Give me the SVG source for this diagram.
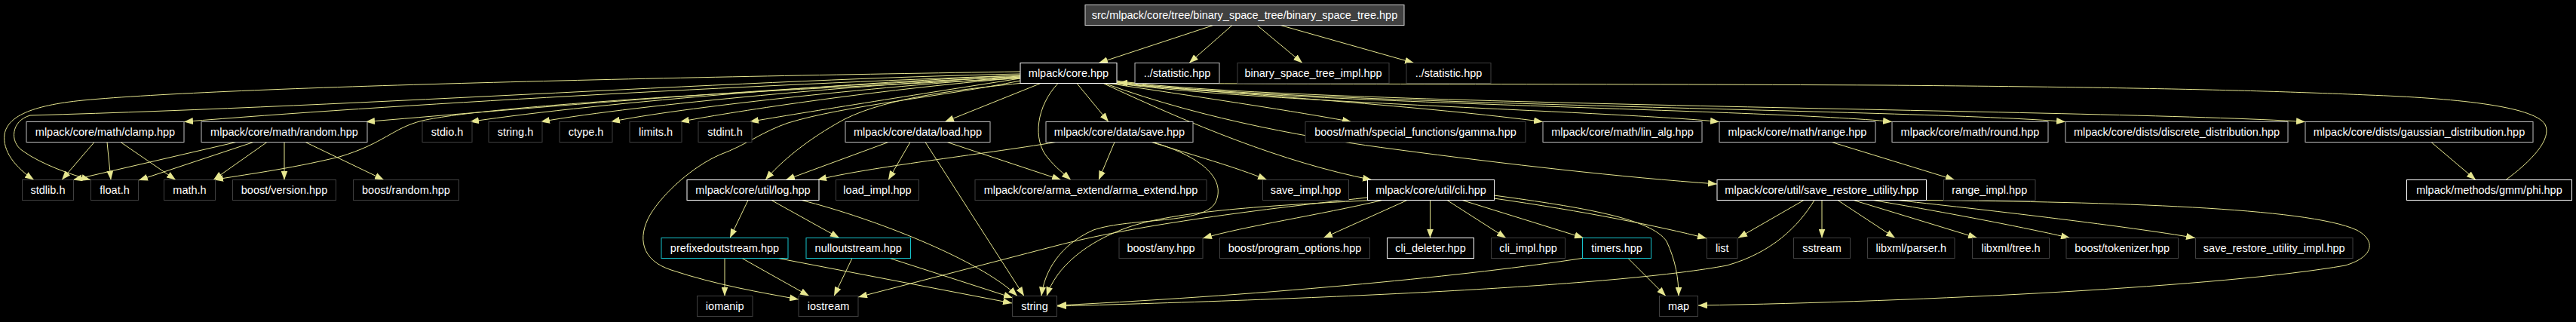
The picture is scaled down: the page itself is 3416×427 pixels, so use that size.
<svg xmlns="http://www.w3.org/2000/svg" width="3416" height="427" viewBox="0 0 3416 427">
<style>
.bg{fill:#000}
.e{fill:none;stroke:#e6e68f;stroke-width:1;marker-end:url(#ah)}
rect{fill:#000;stroke-width:1}
.w rect{stroke:#ffffff}
.g rect{stroke:#bfbfbf}
.d rect{stroke:#404040}
.c rect{stroke:#17c3cc}
.r rect{fill:#404040;stroke:#d0d0d0}
text{font-family:"Liberation Sans",Arial,sans-serif;font-size:14.5px;fill:#ffffff;text-anchor:middle}
</style>
<defs>
<marker id="ah" markerWidth="12" markerHeight="9" refX="12" refY="4.5" orient="auto" markerUnits="userSpaceOnUse">
<path d="M0,0 L12,4.5 L0,9 z" fill="#e6e68f"/>
</marker>
</defs>
<rect class="bg" x="0" y="0" width="3416" height="427"/>
<g id="edges">
<path class="e" d="M1609,33.5 L1457,83.5"/>
<path class="e" d="M1634,33.5 L1577,83.5"/>
<path class="e" d="M1667,33.5 L1727,83.5"/>
<path class="e" d="M1698,33.5 L1875,83.5"/>
<path class="e" d="M1353,95 C900,102 300,115 110,133 C40,140 10,155 6,178 C3,200 20,222 45,238.5"/>
<path class="e" d="M1353,98 C1000,105 500,140 40,153 C15,160 12,188 30,200 C55,218 95,232 120,238.5"/>
<path class="e" d="M1353,100 C1000,112 500,140 244,161.5"/>
<path class="e" d="M1353,102 C1000,116 650,148 485,161.5"/>
<path class="e" d="M1353,104 C1000,120 650,140 560,160 C520,170 510,190 450,208 C380,225 320,232 284,238.5"/>
<path class="e" d="M1353,100 C1150,108 800,135 623,161.5"/>
<path class="e" d="M1353,101 C1150,112 850,138 717,161.5"/>
<path class="e" d="M1353,102 C1150,116 900,143 810,161.5"/>
<path class="e" d="M1353,103 C1150,120 960,150 902,161.5"/>
<path class="e" d="M1353,104 C1250,120 1060,150 994,161.5"/>
<path class="e" d="M1380,110.5 L1253,161.5"/>
<path class="e" d="M1428,110.5 L1470,161.5"/>
<path class="e" d="M1403,110.5 C1375,140 1368,185 1390,210 C1400,222 1410,230 1420,238.5"/>
<path class="e" d="M1357,110 C1280,118 1180,128 1120,158 C1070,185 1035,215 1015,238.5"/>
<path class="e" d="M1353,107 C1250,128 1120,140 1045,163 C1010,175 990,192 955,205 C920,220 880,255 862,285 C845,315 850,345 890,358 C950,378 1010,388 1059,397"/>
<path class="e" d="M1470,110.5 C1600,130 1720,148 1792,161.5"/>
<path class="e" d="M1474,110.5 C1650,125 1900,142 2046,161.5"/>
<path class="e" d="M1477,110 C1650,135 2150,148 2280,161.5"/>
<path class="e" d="M1479,109 C1680,137 2350,145 2509,161.5"/>
<path class="e" d="M1480,108 C1690,139 2550,145 2739,161.5"/>
<path class="e" d="M1481,107 C1700,140 2800,145 3057,161.5"/>
<path class="e" d="M1465,110.5 C1600,160 1750,185 1850,198 C2000,218 2150,235 2277,244"/>
<path class="e" d="M1463,110.5 C1580,165 1700,215 1819,238.5"/>
<path class="e" d="M3323,238.5 C3355,215 3385,185 3375,165 C3360,140 3250,130 3140,126 C3000,120 2850,116 2500,113 C2100,111 1700,112 1483,110"/>
<path class="e" d="M1178,188.5 L1042,238.5"/>
<path class="e" d="M1207,188.5 L1178,238.5"/>
<path class="e" d="M1227,188.5 L1358,392.5"/>
<path class="e" d="M1256,188.5 L1407,238.5"/>
<path class="e" d="M1400,188.5 C1300,205 1150,222 1084,238.5"/>
<path class="e" d="M1478,188.5 L1457,238.5"/>
<path class="e" d="M1527,188.5 C1580,205 1640,222 1680,238.5"/>
<path class="e" d="M1529,188.5 C1600,210 1625,240 1612,268 C1598,298 1500,288 1450,305 C1405,325 1385,360 1381,392.5"/>
<path class="e" d="M992,265.5 L968,315.5"/>
<path class="e" d="M1023,265.5 L1113,315.5"/>
<path class="e" d="M1063,265.5 C1160,290 1300,345 1349,392.5"/>
<path class="e" d="M961,342.5 L961,392.5"/>
<path class="e" d="M984,342.5 L1073,392.5"/>
<path class="e" d="M1032,342.5 L1342,402"/>
<path class="e" d="M1130,342.5 L1106,392.5"/>
<path class="e" d="M1180,342.5 L1343,395"/>
<path class="e" d="M1813,262 C1650,280 1500,300 1400,326 C1300,352 1200,378 1138,394"/>
<path class="e" d="M1818,265.5 C1700,272 1570,278 1500,300 C1440,320 1400,355 1388,392.5"/>
<path class="e" d="M1833,265.5 C1750,285 1650,300 1595,316"/>
<path class="e" d="M1866,265.5 L1755,315.5"/>
<path class="e" d="M1896.5,265.5 L1896.5,315.5"/>
<path class="e" d="M1919,265.5 L1997,315.5"/>
<path class="e" d="M1939,265.5 L2100,315.5"/>
<path class="e" d="M1981,263 C2100,280 2200,300 2263,316"/>
<path class="e" d="M1981,259 C2100,275 2190,290 2210,320 C2222,345 2226,370 2226,392.5"/>
<path class="e" d="M2159,342.5 L2209,392.5"/>
<path class="e" d="M2098,342.5 C1950,365 1700,390 1402,405"/>
<path class="e" d="M2392,265.5 L2305,315.5"/>
<path class="e" d="M2406,265.5 C2385,300 2350,335 2290,352 C2150,378 1800,395 1402,406"/>
<path class="e" d="M2416,265.5 L2416,315.5"/>
<path class="e" d="M2437,265.5 L2513,315.5"/>
<path class="e" d="M2458,265.5 L2622,315.5"/>
<path class="e" d="M2484,265.5 C2600,285 2690,303 2745,315.5"/>
<path class="e" d="M2516,265.5 C2650,280 2820,300 2911,315.5"/>
<path class="e" d="M2554.5,265.5 C2800,268 3060,275 3125,305 C3150,318 3150,340 3110,352 C2950,380 2550,400 2252,405"/>
<path class="e" d="M2429,188.5 L2592,238.5"/>
<path class="e" d="M3224,188.5 L3283,238.5"/>
<path class="e" d="M125,188.5 L82,238.5"/>
<path class="e" d="M142,188.5 L147,238.5"/>
<path class="e" d="M160,188.5 L233,238.5"/>
<path class="e" d="M313,188.5 L97,238.5"/>
<path class="e" d="M336,188.5 L184,239"/>
<path class="e" d="M354,188.5 L283,238.5"/>
<path class="e" d="M377,188.5 L377,238.5"/>
<path class="e" d="M405,188.5 L509,238.5"/>
</g>
<g id="nodes">
<g id="n_root" class="r"><rect x="1439" y="6.5" width="423" height="27"/><text x="1650.5" y="25">src/mlpack/core/tree/binary_space_tree/binary_space_tree.hpp</text></g>
<g id="n_core" class="w"><rect x="1353" y="83.5" width="128" height="27"/><text x="1417" y="102">mlpack/core.hpp</text></g>
<g id="n_stat1" class="g"><rect x="1505" y="83.5" width="112" height="27"/><text x="1561" y="102">../statistic.hpp</text></g>
<g id="n_bstimpl" class="d"><rect x="1641" y="83.5" width="201" height="27"/><text x="1741.5" y="102">binary_space_tree_impl.hpp</text></g>
<g id="n_stat2" class="d"><rect x="1865" y="83.5" width="112" height="27"/><text x="1921" y="102">../statistic.hpp</text></g>
<g id="n_clamp" class="g"><rect x="35" y="161.5" width="209" height="27"/><text x="139.5" y="180">mlpack/core/math/clamp.hpp</text></g>
<g id="n_random" class="g"><rect x="267" y="161.5" width="220" height="27"/><text x="377" y="180">mlpack/core/math/random.hpp</text></g>
<g id="n_stdio" class="d"><rect x="560" y="161.5" width="66" height="27"/><text x="593" y="180">stdio.h</text></g>
<g id="n_stringh" class="d"><rect x="648" y="161.5" width="71" height="27"/><text x="683.5" y="180">string.h</text></g>
<g id="n_ctype" class="d"><rect x="742" y="161.5" width="70" height="27"/><text x="777" y="180">ctype.h</text></g>
<g id="n_limits" class="d"><rect x="835" y="161.5" width="69" height="27"/><text x="869.5" y="180">limits.h</text></g>
<g id="n_stdint" class="d"><rect x="926" y="161.5" width="71" height="27"/><text x="961.5" y="180">stdint.h</text></g>
<g id="n_load" class="g"><rect x="1121" y="161.5" width="192" height="27"/><text x="1217" y="180">mlpack/core/data/load.hpp</text></g>
<g id="n_save" class="g"><rect x="1387" y="161.5" width="195" height="27"/><text x="1484.5" y="180">mlpack/core/data/save.hpp</text></g>
<g id="n_gamma" class="d"><rect x="1731" y="161.5" width="292" height="27"/><text x="1877" y="180">boost/math/special_functions/gamma.hpp</text></g>
<g id="n_linalg" class="g"><rect x="2046" y="161.5" width="211" height="27"/><text x="2151.5" y="180">mlpack/core/math/lin_alg.hpp</text></g>
<g id="n_range" class="g"><rect x="2280" y="161.5" width="207" height="27"/><text x="2383.5" y="180">mlpack/core/math/range.hpp</text></g>
<g id="n_round" class="g"><rect x="2509" y="161.5" width="207" height="27"/><text x="2612.5" y="180">mlpack/core/math/round.hpp</text></g>
<g id="n_discrete" class="g"><rect x="2739" y="161.5" width="295" height="27"/><text x="2886.5" y="180">mlpack/core/dists/discrete_distribution.hpp</text></g>
<g id="n_gaussian" class="g"><rect x="3057" y="161.5" width="302" height="27"/><text x="3208" y="180">mlpack/core/dists/gaussian_distribution.hpp</text></g>
<g id="n_stdlib" class="d"><rect x="29.5" y="238.5" width="68" height="27"/><text x="63.5" y="257">stdlib.h</text></g>
<g id="n_float" class="d"><rect x="120.5" y="238.5" width="63" height="27"/><text x="152" y="257">float.h</text></g>
<g id="n_math" class="d"><rect x="217.5" y="238.5" width="68" height="27"/><text x="251.5" y="257">math.h</text></g>
<g id="n_bversion" class="d"><rect x="308.5" y="238.5" width="137" height="27"/><text x="377" y="257">boost/version.hpp</text></g>
<g id="n_brandom" class="d"><rect x="468.5" y="238.5" width="140" height="27"/><text x="538.5" y="257">boost/random.hpp</text></g>
<g id="n_log" class="w"><rect x="911" y="238.5" width="175" height="27"/><text x="998.5" y="257">mlpack/core/util/log.hpp</text></g>
<g id="n_loadimpl" class="d"><rect x="1108.5" y="238.5" width="110" height="27"/><text x="1163.5" y="257">load_impl.hpp</text></g>
<g id="n_arma" class="d"><rect x="1293" y="238.5" width="307" height="27"/><text x="1446.5" y="257">mlpack/core/arma_extend/arma_extend.hpp</text></g>
<g id="n_saveimpl" class="d"><rect x="1674.5" y="238.5" width="114" height="27"/><text x="1731.5" y="257">save_impl.hpp</text></g>
<g id="n_cli" class="w"><rect x="1813.5" y="238.5" width="168" height="27"/><text x="1897.5" y="257">mlpack/core/util/cli.hpp</text></g>
<g id="n_sru" class="w"><rect x="2277" y="238.5" width="277.5" height="27"/><text x="2415.75" y="257">mlpack/core/util/save_restore_utility.hpp</text></g>
<g id="n_rangeimpl" class="d"><rect x="2577.5" y="238.5" width="121.5" height="27"/><text x="2638.25" y="257">range_impl.hpp</text></g>
<g id="n_phi" class="w"><rect x="3191.5" y="238.5" width="219" height="27"/><text x="3301" y="257">mlpack/methods/gmm/phi.hpp</text></g>
<g id="n_prefixed" class="c"><rect x="877" y="315.5" width="168" height="27"/><text x="961" y="334">prefixedoutstream.hpp</text></g>
<g id="n_null" class="c"><rect x="1069" y="315.5" width="138.5" height="27"/><text x="1138.25" y="334">nulloutstream.hpp</text></g>
<g id="n_any" class="d"><rect x="1484" y="315.5" width="111" height="27"/><text x="1539.5" y="334">boost/any.hpp</text></g>
<g id="n_po" class="d"><rect x="1617.5" y="315.5" width="199" height="27"/><text x="1717" y="334">boost/program_options.hpp</text></g>
<g id="n_clideleter" class="w"><rect x="1839.5" y="315.5" width="115" height="27"/><text x="1897" y="334">cli_deleter.hpp</text></g>
<g id="n_cliimpl" class="d"><rect x="1977.5" y="315.5" width="98" height="27"/><text x="2026.5" y="334">cli_impl.hpp</text></g>
<g id="n_timers" class="c"><rect x="2098.5" y="315.5" width="91" height="27"/><text x="2144" y="334">timers.hpp</text></g>
<g id="n_list" class="d"><rect x="2263.5" y="315.5" width="40.5" height="27"/><text x="2283.75" y="334">list</text></g>
<g id="n_sstream" class="d"><rect x="2378.5" y="315.5" width="75" height="27"/><text x="2416" y="334">sstream</text></g>
<g id="n_parser" class="d"><rect x="2476.5" y="315.5" width="115.5" height="27"/><text x="2534.25" y="334">libxml/parser.h</text></g>
<g id="n_tree" class="d"><rect x="2615.5" y="315.5" width="102" height="27"/><text x="2666.5" y="334">libxml/tree.h</text></g>
<g id="n_tokenizer" class="d"><rect x="2740" y="315.5" width="148.5" height="27"/><text x="2814.25" y="334">boost/tokenizer.hpp</text></g>
<g id="n_sruimpl" class="d"><rect x="2911.5" y="315.5" width="208.5" height="27"/><text x="3015.75" y="334">save_restore_utility_impl.hpp</text></g>
<g id="n_iomanip" class="d"><rect x="924.5" y="392.5" width="73.5" height="27"/><text x="961.25" y="411">iomanip</text></g>
<g id="n_iostream" class="d"><rect x="1059" y="392.5" width="79" height="27"/><text x="1098.5" y="411">iostream</text></g>
<g id="n_string" class="d"><rect x="1342.5" y="392.5" width="59" height="27"/><text x="1372" y="411">string</text></g>
<g id="n_map" class="d"><rect x="2200.5" y="392.5" width="51" height="27"/><text x="2226" y="411">map</text></g>
</g>
</svg>
